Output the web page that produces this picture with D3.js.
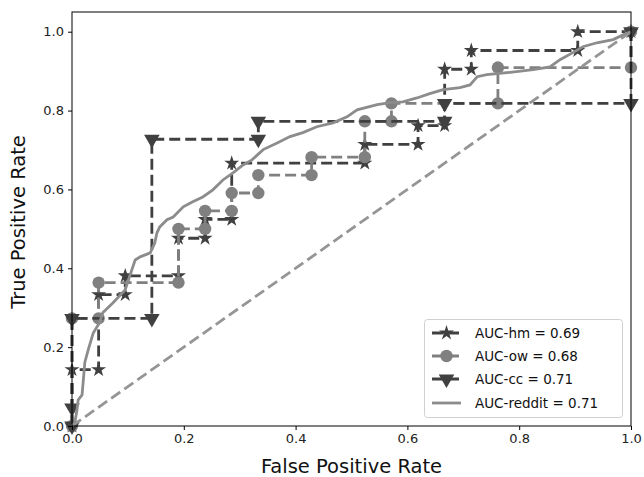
<!DOCTYPE html>
<html><head><meta charset="utf-8">
<script src="https://cdn.jsdelivr.net/npm/d3@7"></script>
<style>body{margin:0;background:#fff}svg{display:block}text{font-family:"DejaVu Sans",sans-serif}</style>
</head><body>
<svg id="c" width="644" height="477"></svg>
<script>
// Data (fractions: negatives = 21, positives = 21 for hm, 22 for ow/cc)
const hmFpr = [0,0,1,1,2,2,4,4,5,5,6,6,11,11,13,13,14,14,15,15,19,19,21].map(v=>v/21);
const hmTpr = [0,3,3,7,7,8,8,10,10,11,11,14,14,15,15,16,16,19,19,20,20,21,21].map(v=>v/21);
const owFpr = [0,0,1,1,4,4,5,5,6,6,7,7,9,9,11,11,12,12,16,16,21,21].map(v=>v/21);
const owTpr = [0,6,6,8,8,11,11,12,12,13,13,14,14,15,15,17,17,18,18,20,20,22].map(v=>v/22);
const ccFpr = [0,0,0,3,3,7,7,14,14,21,21].map(v=>v/21);
const ccTpr = [0,1,6,6,16,16,17,17,18,18,22].map(v=>v/22);
const redditFpr = [0,0.005,0.009,0.011,0.018,0.023,0.029,0.038,0.050,0.055,0.073,0.095,0.107,0.113,0.122,0.140,0.148,0.152,0.157,0.170,0.181,0.199,0.216,0.234,0.252,0.270,0.288,0.306,0.322,0.342,0.367,0.390,0.413,0.438,0.467,0.492,0.510,0.546,0.569,0.592,0.617,0.640,0.664,0.694,0.712,0.725,0.742,0.778,0.825,0.855,0.873,0.896,0.914,0.939,0.968,0.986,1];
const redditTpr = [0,0.008,0.041,0.066,0.079,0.162,0.193,0.236,0.264,0.287,0.312,0.345,0.396,0.421,0.429,0.439,0.464,0.490,0.505,0.523,0.530,0.556,0.569,0.581,0.599,0.624,0.642,0.662,0.675,0.701,0.718,0.734,0.744,0.759,0.769,0.784,0.802,0.815,0.820,0.822,0.832,0.843,0.853,0.858,0.865,0.886,0.891,0.896,0.904,0.911,0.929,0.947,0.962,0.972,0.980,0.992,1];
const legendLabels = ["AUC-hm = 0.69","AUC-ow = 0.68","AUC-cc = 0.71","AUC-reddit = 0.71"];
const ticks = [0,0.2,0.4,0.6,0.8,1.0];

const svg = d3.select("#c");
const L=72,R=631,T=12,B=426;
const x = d3.scaleLinear().domain([0,1]).range([L,R]);
const y = d3.scaleLinear().domain([0,1.05]).range([B,T]);
const dark="#404040", mid="#808080", light="#8c8c8c", diag="#959595";

const g = svg.append("g");
const line = d3.line().x(d=>x(d[0])).y(d=>y(d[1]));
const zip=(a,b)=>a.map((v,i)=>[v,b[i]]);

const series = [
  {f:hmFpr,t:hmTpr,color:dark,marker:"star",dash:"11,5"},
  {f:owFpr,t:owTpr,color:mid,marker:"circle",dash:"11,5"},
  {f:ccFpr,t:ccTpr,color:dark,marker:"tri",dash:"11,5"},
];
function marker(sel,type,color){
  if(type==="star") sel.append("path").attr("d",d3.symbol(d3.symbolStar,70)()).attr("fill",color);
  else if(type==="circle") sel.append("circle").attr("r",6.2).attr("fill",color);
  else if(type==="tri") sel.append("path").attr("d",d3.symbol(d3.symbolTriangle,105)()).attr("transform","rotate(180)").attr("fill",color);
}
series.forEach(s=>{
  const pts = zip(s.f,s.t);
  g.append("path").attr("d",line(pts)).attr("fill","none").attr("stroke",s.color)
    .attr("stroke-width",2.8).attr("stroke-dasharray",s.dash);
  pts.forEach(p=>{
    const m=g.append("g").attr("transform",`translate(${x(p[0])},${y(p[1])})`);
    marker(m,s.marker,s.color);
  });
});
g.append("path").attr("d",line(zip(redditFpr,redditTpr))).attr("fill","none")
  .attr("stroke",light).attr("stroke-width",2.8);
g.append("path").attr("d",line([[0,0],[1,1]])).attr("fill","none")
  .attr("stroke",diag).attr("stroke-width",2.8).attr("stroke-dasharray","11,5");

// frame
svg.append("rect").attr("x",L).attr("y",T).attr("width",R-L).attr("height",B-T)
  .attr("fill","none").attr("stroke","#000").attr("stroke-width",1);

// axes
const xa = svg.append("g").attr("transform",`translate(0,${B})`)
  .call(d3.axisBottom(x).tickValues(ticks).tickFormat(d3.format(".1f")).tickSize(4).tickPadding(4));
const ya = svg.append("g").attr("transform",`translate(${L},0)`)
  .call(d3.axisLeft(y).tickValues(ticks).tickFormat(d3.format(".1f")).tickSize(4).tickPadding(4));
[xa,ya].forEach(a=>{a.select(".domain").remove();
  a.selectAll("text").attr("font-size",13).attr("fill","#222").attr("font-family","DejaVu Sans");
  a.selectAll("line").attr("stroke","#000");});

svg.append("text").attr("x",(L+R)/2).attr("y",473).attr("text-anchor","middle")
  .attr("font-size",19.5).attr("fill","#111").text("False Positive Rate");
svg.append("text").attr("transform",`translate(25,${(T+B)/2+3}) rotate(-90)`).attr("text-anchor","middle")
  .attr("font-size",19.5).attr("fill","#111").text("True Positive Rate");

// legend
const lg = svg.append("g");
lg.append("rect").attr("x",424.5).attr("y",319.5).attr("width",198).attr("height",98).attr("rx",3)
  .attr("fill","#fff").attr("fill-opacity",0.8).attr("stroke","#d0d0d0");
const rows=[333,356,379,403];
const lsty=[{c:dark,m:"star",d:true},{c:mid,m:"circle",d:true},{c:dark,m:"tri",d:true},{c:light,m:null,d:false}];
legendLabels.forEach((lab,i)=>{
  const yy=rows[i];
  lg.append("line").attr("x1",432).attr("x2",461).attr("y1",yy).attr("y2",yy)
    .attr("stroke",lsty[i].c).attr("stroke-width",2.8).attr("stroke-dasharray",lsty[i].d?"11,5":null);
  if(lsty[i].m){const m=lg.append("g").attr("transform",`translate(446.5,${yy})`);marker(m,lsty[i].m,lsty[i].c);}
  lg.append("text").attr("x",475).attr("y",yy+5).attr("font-size",13.5).attr("fill","#111").text(lab);
});
</script>
</body></html>
